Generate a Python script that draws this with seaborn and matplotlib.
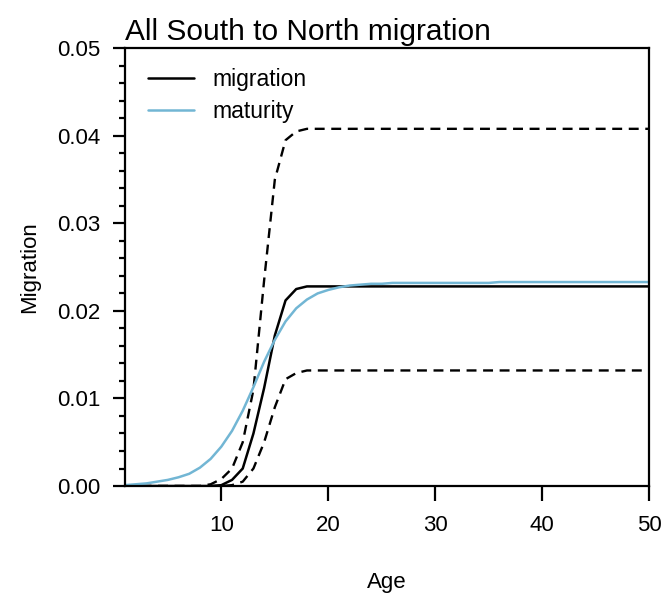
import numpy as np
import pandas as pd
import matplotlib
matplotlib.use("Agg")
import matplotlib.pyplot as plt
from matplotlib.ticker import AutoMinorLocator, FixedLocator
import seaborn as sns

# Age classes
age = list(range(1, 51))

# Estimated proportion migrating south -> north, with lower/upper bounds
migration = [0.0] * 9 + [0.0001, 0.0007, 0.0020, 0.0060, 0.0112, 0.0172,
                         0.0212, 0.0225] + [0.0228] * 33
upper = [0.0] * 8 + [0.0002, 0.0008, 0.0020, 0.0050, 0.0110, 0.0235, 0.0350,
                     0.0395, 0.0405] + [0.0408] * 33
lower = [0.0] * 10 + [0.0001, 0.0005, 0.0020, 0.0050, 0.0090, 0.0122,
                      0.0129] + [0.0132] * 33
# Maturity ogive scaled to the migration plateau
maturity = [0.0001, 0.0002, 0.0003, 0.0005, 0.0007, 0.0010, 0.0014, 0.0021,
            0.0031, 0.0045, 0.0063, 0.0086, 0.0113, 0.0142, 0.0167, 0.0188,
            0.0203, 0.0213, 0.0220, 0.0224, 0.0227, 0.0229, 0.0230, 0.0231,
            0.0231] + [0.0232] * 10 + [0.0233] * 15

df = pd.DataFrame({"age": age, "migration": migration, "upper": upper,
                   "lower": lower, "maturity": maturity})

sns.set_style("ticks")
plt.rcParams["font.family"] = ["Liberation Sans", "DejaVu Sans"]
plt.rcParams["text.color"] = "black"
plt.rcParams["axes.labelcolor"] = "black"

fig = plt.figure(figsize=(6.64, 5.99), dpi=100)
ax = fig.add_axes([0.1883, 0.1886, 0.7896, 0.7308])

blue = "#72B6D4"
sns.lineplot(data=df, x="age", y="upper", ax=ax, color="black", lw=1.7,
             linestyle=(0, (4.2, 2.8)), legend=False)
sns.lineplot(data=df, x="age", y="lower", ax=ax, color="black", lw=1.7,
             linestyle=(0, (4.2, 2.8)), legend=False)
sns.lineplot(data=df, x="age", y="migration", ax=ax, color="black", lw=1.8,
             label="migration")
sns.lineplot(data=df, x="age", y="maturity", ax=ax, color=blue, lw=1.8,
             label="maturity")

ax.set_xlim(1, 50)
ax.set_ylim(0, 0.05)
ax.xaxis.set_major_locator(FixedLocator([10, 20, 30, 40, 50]))
ax.set_yticks([0.0, 0.01, 0.02, 0.03, 0.04, 0.05])
ax.set_yticklabels(["0.00", "0.01", "0.02", "0.03", "0.04", "0.05"])
ax.yaxis.set_minor_locator(AutoMinorLocator(5))

for s in ax.spines.values():
    s.set_linewidth(1.6)
    s.set_color("black")
    s.set_visible(True)

ax.tick_params(axis="x", which="major", length=10.5, width=1.6, pad=10,
               labelsize=16, direction="out", colors="black")
ax.tick_params(axis="y", which="major", length=9, width=1.6, pad=9,
               labelsize=16, direction="out", colors="black")
ax.tick_params(axis="y", which="minor", length=4, width=1.6, direction="out",
               colors="black")

ax.set_xlabel("Age", fontsize=16, labelpad=26)
ax.set_ylabel("Migration", fontsize=16, labelpad=12)
ax.set_title("All South to North migration", loc="left", fontsize=21.5,
             pad=6, color="black")

leg = ax.legend(loc="upper left", frameon=False, fontsize=16.5,
                handlelength=2.0, handletextpad=0.8, labelspacing=0.38,
                borderaxespad=0.8, bbox_to_anchor=(-0.009, 1.017))

fig.savefig("out.png", dpi=100, facecolor="white")
